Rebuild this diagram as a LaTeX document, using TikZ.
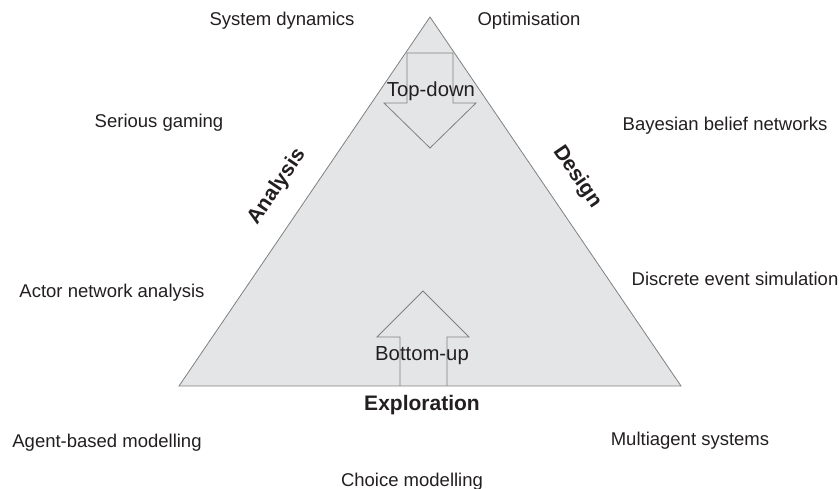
\documentclass[tikz,border=0pt]{standalone}
\usepackage{fontspec}
\setmainfont{Liberation Sans}
\definecolor{txt}{HTML}{231F20}
\definecolor{tri}{HTML}{E4E5E7}
\definecolor{edge}{HTML}{808080}
\begin{document}
\begin{tikzpicture}[x=1pt,y=-1pt,
  outline/.style={draw=edge, line width=0.8pt},
  lbl/.style={anchor=base, inner sep=0pt, text=txt, font=\fontsize{18.5}{22}\selectfont},
  flow/.style={lbl, font=\fontsize{20.3}{24}\selectfont},
  side/.style={inner sep=0pt, text=txt, font=\fontsize{21}{25}\selectfont\bfseries}]
\useasboundingbox (0,0) rectangle (839,489);

% triangle
\coordinate (apex) at (430,17);
\coordinate (bl) at (179,386);
\coordinate (br) at (681,386);
\draw [outline, fill=tri] (apex) -- (bl) -- (br) -- cycle;

% arrows
\draw [outline] (407,53) -- (453,53) -- (453,103) -- (476,103) -- (430,148)
  -- (384,103) -- (407,103) -- cycle;
\draw [outline] (400,386) -- (400,337) -- (377,337) -- (423,291) -- (469,337)
  -- (447,337) -- (447,386);
\node [flow] (topdown) at (431,97) {Top-down};
\node [flow] (bottomup) at (422,361) {Bottom-up};

% sides
\node [side, rotate=55.8] (analysis) at (277,187) {Analysis};
\node [side, rotate=-55.8] (design) at (577,177) {Design};
\node [side, anchor=base] (exploration) at (422,410) {Exploration};

% methods
\node [lbl] (sysdyn) at (282,26) {System dynamics};
\node [lbl] (optim) at (529,26) {Optimisation};
\node [lbl] (gaming) at (159,128) {Serious gaming};
\node [lbl] (bayes) at (725,131) {Bayesian belief networks};
\node [lbl] (actor) at (112,298) {Actor network analysis};
\node [lbl] (des) at (735,286) {Discrete event simulation};
\node [lbl] (abm) at (107,447) {Agent-based modelling};
\node [lbl] (mas) at (690,445) {Multiagent systems};
\node [lbl] (choice) at (412,486) {Choice modelling};
\end{tikzpicture}
\end{document}
